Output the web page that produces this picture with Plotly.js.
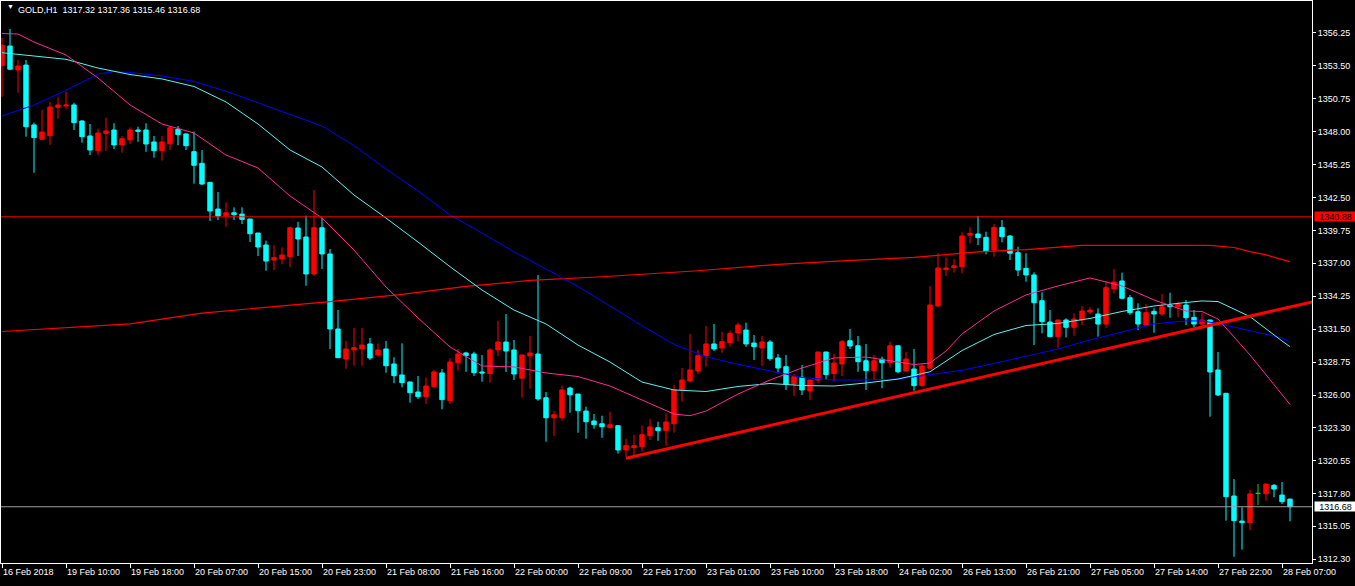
<!DOCTYPE html>
<html><head><meta charset="utf-8">
<script src="https://cdn.plot.ly/plotly-3.0.1.min.js"></script>
<style>html,body{margin:0;padding:0;background:#000;overflow:hidden}#chart{width:1355px;height:586px}</style>
</head><body><div id="chart"></div>
<script>
const symbol = "GOLD,H1";

const open = [
1353.50,1355.14,1353.14,1353.55,1348.55,1347.35,1347.65,1350.02,1350.13,1350.22,
1348.88,1347.63,1346.40,1347.85,1348.13,1346.88,1347.30,1348.13,1348.13,1347.13,
1346.40,1346.98,1348.19,1347.80,1346.32,1345.35,1343.76,1341.53,1340.97,1341.22,
1341.11,1340.70,1339.53,1338.53,1337.28,1337.36,1337.55,1339.95,1339.20,1336.11,
1339.97,1337.78,1331.52,1329.01,1329.77,1329.85,1330.27,1329.35,1329.85,1328.60,
1327.68,1327.10,1326.26,1325.87,1326.70,1327.85,1325.53,1328.70,1329.52,1329.43,
1327.93,1327.79,1329.77,1330.43,1329.77,1327.41,1329.27,1329.43,1325.78,1324.11,
1324.11,1326.59,1326.09,1324.67,1323.84,1323.61,1323.28,1323.45,1321.42,1321.61,
1321.69,1322.61,1323.28,1323.03,1323.61,1326.43,1327.18,1328.01,1329.27,1330.27,
1329.93,1330.37,1331.18,1331.43,1330.35,1329.93,1330.43,1329.10,1328.37,1326.93,
1327.49,1326.34,1327.26,1329.60,1327.79,1328.60,1330.54,1330.12,1328.87,1328.04,
1328.99,1328.70,1330.12,1328.01,1328.18,1326.79,1328.24,1333.44,1336.47,1336.64,
1336.72,1339.34,1339.45,1339.17,1338.11,1340.00,1339.28,1337.89,1336.58,1336.03,
1333.88,1332.10,1330.88,1332.27,1331.66,1332.27,1332.94,1332.77,1331.93,1334.86,
1335.53,1334.13,1332.96,1331.85,1332.99,1332.77,1333.52,1333.38,1333.52,1332.49,
1331.93,1332.27,1328.10,1326.15,1317.58,1315.49,1315.35,1317.80,1317.77,1318.47,
1317.66,1317.32];

const high = [
1355.83,1356.56,1353.97,1353.97,1348.74,1349.80,1350.47,1350.86,1351.30,1350.41,
1348.96,1348.63,1348.24,1349.16,1348.69,1347.63,1348.35,1348.41,1348.69,1347.63,
1347.63,1348.46,1348.46,1347.85,1347.99,1346.46,1343.79,1342.95,1342.09,1341.67,
1341.67,1340.70,1339.53,1338.89,1338.53,1338.34,1340.06,1340.47,1340.98,1343.12,
1340.81,1338.20,1333.10,1330.52,1331.60,1331.60,1330.77,1330.32,1330.52,1329.16,
1330.32,1327.10,1327.60,1327.45,1328.10,1328.18,1329.07,1329.85,1329.62,1329.62,
1329.35,1329.91,1332.19,1332.77,1330.60,1329.35,1330.93,1336.03,1326.26,1324.67,
1326.79,1326.70,1326.09,1325.03,1324.42,1324.28,1324.61,1323.45,1322.36,1322.69,
1323.45,1324.00,1323.78,1324.48,1326.85,1328.26,1331.10,1329.77,1331.77,1331.94,
1331.29,1331.38,1332.05,1332.05,1331.02,1330.93,1330.60,1329.43,1329.35,1327.76,
1328.51,1327.26,1329.60,1329.60,1329.43,1330.60,1331.52,1330.93,1330.27,1329.35,
1329.21,1330.46,1330.12,1329.62,1329.85,1328.65,1335.11,1337.84,1337.50,1337.36,
1339.59,1340.00,1340.95,1339.64,1340.28,1340.62,1339.36,1338.39,1337.84,1336.25,
1334.58,1333.10,1332.27,1332.41,1332.83,1333.44,1333.33,1333.24,1335.55,1336.53,
1336.22,1334.36,1333.66,1333.60,1333.24,1334.44,1334.55,1333.80,1333.94,1333.10,
1332.88,1332.27,1329.60,1326.15,1318.99,1316.63,1318.08,1318.58,1318.58,1318.58,
1318.75,1317.36];

const low = [
1350.90,1353.14,1351.24,1347.57,1344.57,1347.35,1346.88,1349.07,1349.85,1348.13,
1347.07,1346.04,1346.04,1346.40,1346.54,1346.23,1346.96,1347.15,1346.32,1345.82,
1345.57,1346.46,1346.85,1346.46,1343.65,1343.54,1340.53,1340.62,1340.06,1340.62,
1340.28,1338.78,1337.61,1336.38,1336.44,1336.92,1336.67,1337.61,1335.13,1335.94,
1336.53,1329.85,1329.12,1328.18,1328.45,1328.45,1328.93,1329.21,1327.87,1326.99,
1326.65,1325.37,1325.68,1325.26,1326.70,1324.82,1325.26,1328.04,1327.95,1327.60,
1327.12,1327.04,1329.27,1327.93,1327.26,1325.78,1326.53,1325.53,1322.11,1322.60,
1323.86,1324.53,1322.86,1322.36,1323.20,1322.44,1323.20,1321.11,1320.86,1320.94,
1321.28,1322.25,1322.19,1321.78,1322.86,1325.45,1327.04,1327.76,1328.37,1329.68,
1329.54,1330.04,1330.46,1330.04,1328.93,1328.43,1328.87,1327.82,1326.43,1325.93,
1326.01,1325.59,1326.99,1327.32,1327.12,1327.60,1329.85,1327.95,1326.43,1327.26,
1326.57,1328.29,1327.82,1327.95,1326.37,1326.70,1328.24,1333.38,1335.94,1336.22,
1336.17,1338.67,1338.53,1337.75,1337.55,1338.76,1337.28,1335.94,1335.47,1330.18,
1331.16,1330.82,1329.96,1330.81,1330.96,1331.85,1332.77,1330.88,1331.60,1334.50,
1334.00,1332.69,1331.43,1331.77,1331.21,1332.60,1332.46,1332.49,1331.85,1331.66,
1331.77,1324.20,1325.93,1315.52,1312.51,1313.10,1314.74,1316.83,1317.19,1317.47,
1316.91,1315.46];

const close = [
1355.20,1353.20,1353.47,1348.40,1347.49,1347.96,1350.05,1350.22,1350.22,1348.74,
1347.57,1346.46,1347.88,1348.05,1346.88,1347.40,1348.13,1348.02,1346.96,1346.40,
1347.13,1348.32,1347.74,1346.82,1345.18,1343.62,1341.37,1340.95,1341.22,1341.06,
1340.67,1339.47,1338.36,1337.19,1337.47,1337.69,1339.97,1339.03,1336.11,1339.97,
1337.78,1331.52,1329.12,1329.85,1329.96,1330.18,1329.10,1329.77,1328.45,1327.62,
1327.04,1326.20,1325.87,1326.76,1327.93,1325.62,1328.76,1329.43,1329.29,1327.87,
1327.85,1329.77,1330.43,1329.68,1327.76,1329.35,1329.52,1325.68,1324.11,1324.36,
1326.43,1326.03,1324.70,1323.78,1323.53,1323.36,1323.53,1321.42,1321.78,1321.78,
1322.69,1323.34,1323.03,1323.76,1326.43,1327.26,1328.10,1329.29,1330.27,1329.85,
1330.46,1331.16,1331.85,1330.27,1330.04,1330.43,1329.04,1328.26,1326.90,1327.54,
1326.43,1327.26,1329.60,1327.71,1328.68,1330.46,1330.10,1328.79,1328.04,1328.87,
1328.70,1330.12,1327.95,1329.01,1326.79,1328.43,1333.52,1336.61,1336.61,1336.80,
1339.28,1339.50,1339.14,1338.03,1340.00,1339.22,1337.84,1336.44,1336.03,1333.71,
1332.13,1330.88,1332.27,1331.66,1332.35,1333.02,1333.10,1331.93,1334.97,1335.44,
1334.08,1332.88,1331.93,1332.88,1332.77,1333.38,1333.38,1333.60,1332.46,1331.93,
1332.27,1327.93,1326.01,1317.52,1315.52,1315.35,1317.75,1317.80,1318.58,1318.16,
1317.10,1316.68];

// x-axis time labels (every 8th bar)
const tickBars = [0,8,16,24,32,40,48,56,64,72,80,88,96,104,112,120,128,136,144,152,160];
const tickLabels = ["16 Feb 2018","19 Feb 10:00","19 Feb 18:00","20 Feb 07:00","20 Feb 15:00","20 Feb 23:00",
"21 Feb 08:00","21 Feb 16:00","22 Feb 00:00","22 Feb 09:00","22 Feb 17:00","23 Feb 01:00","23 Feb 10:00",
"23 Feb 18:00","24 Feb 02:00","26 Feb 13:00","26 Feb 21:00","27 Feb 05:00","27 Feb 14:00","27 Feb 22:00","28 Feb 07:00"];

// price scale labels
const priceTicks = [1356.25,1353.50,1350.75,1348.00,1345.25,1342.50,1339.75,1337.00,1334.25,1331.50,1328.75,1326.00,1323.30,1320.55,1317.80,1315.05,1312.30];

// moving averages
const maFastBars = [0,2,4,8,12,16,20,24,28,32,36,40,44,48,52,56,60,64,68,72,76,80,84,86,88,92,96,100,104,108,112,114,116,118,120,124,128,132,136,140,144,148,150,152,156,160,161];
const maFast = [1356.18,1356.14,1355.47,1354.39,1352.47,1350.22,1348.63,1347.88,1346.04,1344.96,1342.62,1340.78,1338.11,1335.02,1332.44,1330.02,1328.43,1328.35,1327.85,1327.55,1326.76,1325.59,1324.42,1324.28,1324.67,1326.09,1327.26,1328.26,1329.10,1329.18,1328.76,1328.55,1328.68,1329.68,1331.10,1333.02,1334.36,1335.11,1335.78,1335.11,1333.94,1333.02,1332.98,1332.35,1329.35,1326.01,1325.22];

const maMidBars = [0,4,8,12,16,20,24,28,32,36,40,44,48,52,56,60,64,68,72,76,80,84,88,92,96,100,104,108,112,116,120,124,128,132,136,140,144,148,150,152,156,160,161];
const maMid = [1354.58,1354.31,1354.03,1353.30,1352.76,1352.39,1351.76,1350.47,1348.63,1346.46,1345.04,1342.70,1340.78,1338.78,1336.72,1334.77,1333.10,1331.94,1330.18,1328.76,1327.09,1326.43,1326.30,1326.72,1326.97,1326.80,1326.76,1327.01,1327.34,1327.95,1329.72,1331.06,1331.81,1331.98,1332.40,1332.98,1333.44,1333.73,1333.86,1333.81,1332.55,1330.52,1330.04];

const maSlowBars = [0,4,8,12,14,16,20,24,28,32,36,40,44,48,52,56,60,64,68,72,76,80,84,88,92,96,100,104,108,112,116,120,124,128,132,136,140,144,148,150,152,156,160,161];
const maSlow = [1349.30,1350.22,1351.43,1352.80,1353.01,1352.93,1352.64,1352.18,1351.37,1350.38,1349.40,1348.46,1346.82,1344.87,1343.04,1341.03,1339.53,1337.95,1336.53,1335.07,1333.44,1331.79,1330.23,1329.20,1328.57,1328.05,1327.47,1327.26,1327.26,1327.34,1327.68,1328.07,1328.64,1329.23,1329.85,1330.60,1331.27,1331.94,1332.19,1332.19,1331.98,1331.38,1330.77,1330.43];

const ma200Bars = [0,8,16,25,33,41,50,58,66,75,87,97,105,114,122,128,135,145,151,154,156,158,161];
const ma200 = [1331.31,1331.63,1331.94,1332.85,1333.30,1333.80,1334.40,1335.07,1335.57,1335.88,1336.38,1336.92,1337.20,1337.50,1337.96,1338.15,1338.49,1338.50,1338.50,1338.32,1337.97,1337.70,1337.14];

// drawn trendline anchors (ray to the right)
const trendBars = [78, 150];
const trendPrices = [1320.73, 1331.68];

// horizontal level and bid
const levelPrice = 1340.88;
const bidPrice = close[close.length - 1];

// ---------- build ----------
const X_MIN = -0.125, X_MAX = 163.75;
const Y_MIN = 1311.986, Y_MAX = 1358.896;
const FONT = "Liberation Sans, Arial, sans-serif";

const idx = open.map((_, i) => i);
const isDoji = idx.map(i => open[i] === close[i]);
const sel = (arr, f) => idx.filter(f).map(i => arr[i]);
const reg = i => !isDoji[i];
const dj = i => isDoji[i];

const candles = {
  type: 'candlestick', x: sel(idx, reg), open: sel(open, reg), high: sel(high, reg),
  low: sel(low, reg), close: sel(close, reg),
  increasing: {line: {color: '#ff0000', width: 1}, fillcolor: '#ff0000'},
  decreasing: {line: {color: '#00ffff', width: 1}, fillcolor: '#00ffff'},
  whiskerwidth: 0, hoverinfo: 'skip', showlegend: false
};
const dojis = {
  type: 'candlestick', x: sel(idx, dj), open: sel(open, dj), high: sel(high, dj),
  low: sel(low, dj), close: sel(close, dj),
  increasing: {line: {color: '#22c422', width: 1}, fillcolor: '#22c422'},
  decreasing: {line: {color: '#22c422', width: 1}, fillcolor: '#22c422'},
  whiskerwidth: 0, hoverinfo: 'skip', showlegend: false
};
const line = (x, y, color, width) => ({type: 'scatter', mode: 'lines', x, y,
  line: {color, width}, hoverinfo: 'skip', showlegend: false});

const slope = (trendPrices[1] - trendPrices[0]) / (trendBars[1] - trendBars[0]);
const trendX = [trendBars[0], X_MAX + 1];
const trendY = [trendPrices[0], trendPrices[0] + slope * (X_MAX + 1 - trendBars[0])];

const data = [
  candles, dojis,
  line(ma200Bars, ma200, '#ff0000', 1.2),
  line(maSlowBars, maSlow, '#0000ff', 1),
  line(maMidBars, maMid, '#5cf2f2', 1),
  line(maFastBars, maFast, '#ff2a93', 1),
  line(trendX, trendY, '#ff0000', 3)
];

const n = open.length - 1;
const fmt = v => v.toFixed(2);
const header = symbol + '\u00a0\u00a0' + [open[n], high[n], low[n], close[n]].map(fmt).join(' ');

const layout = {
  width: 1355, height: 586,
  margin: {l: 1, r: 43, t: 1, b: 23, pad: 0},
  paper_bgcolor: '#000000', plot_bgcolor: '#000000',
  showlegend: false, hovermode: false,
  boxgap: 0.45, boxgroupgap: 0,
  font: {family: FONT, size: 9, color: '#ffffff'},
  xaxis: {
    type: 'linear', range: [X_MIN, X_MAX], fixedrange: true,
    showgrid: false, zeroline: false, showline: true, mirror: true,
    linecolor: '#ffffff', linewidth: 1,
    ticks: 'outside', ticklen: 4, tickwidth: 1, tickcolor: '#ffffff',
    tickmode: 'array', tickvals: tickBars, ticktext: tickLabels,
    ticklabelposition: 'outside right',
    tickfont: {family: FONT, size: 9, color: '#ffffff'},
    rangeslider: {visible: false}
  },
  yaxis: {
    side: 'right', range: [Y_MIN, Y_MAX], fixedrange: true,
    showgrid: false, zeroline: false, showline: true, mirror: true,
    linecolor: '#ffffff', linewidth: 1,
    ticks: 'outside', ticklen: 3, tickwidth: 1, tickcolor: '#ffffff',
    tickmode: 'array', tickvals: priceTicks, ticktext: priceTicks.map(fmt),
    tickfont: {family: FONT, size: 9, color: '#ffffff'}
  },
  shapes: [
    {type: 'line', xref: 'paper', x0: 0, x1: 1, yref: 'y', y0: levelPrice, y1: levelPrice,
     line: {color: '#ff0000', width: 1}, layer: 'above'},
    {type: 'line', xref: 'paper', x0: 0, x1: 1, yref: 'y', y0: bidPrice, y1: bidPrice,
     line: {color: '#a0a0a0', width: 1}, layer: 'above'}
  ],
  annotations: [
    {xref: 'paper', yref: 'paper', x: 0, y: 1, xshift: 4, yshift: -5, xanchor: 'left', yanchor: 'middle',
     text: '\u25BC', showarrow: false, font: {family: FONT, size: 7, color: '#ffffff'}},
    {xref: 'paper', yref: 'paper', x: 0, y: 1, xshift: 15, yshift: -9, xanchor: 'left', yanchor: 'middle',
     text: header, showarrow: false, font: {family: FONT, size: 9, color: '#ffffff'}},
    {xref: 'paper', yref: 'y', x: 1, y: levelPrice, xanchor: 'left', yanchor: 'middle', xshift: 2,
     text: fmt(levelPrice), showarrow: false, bgcolor: '#ff0000', borderpad: 0, width: 41, height: 9, align: 'center',
     font: {family: FONT, size: 9, color: '#000000'}},
    {xref: 'paper', yref: 'y', x: 1, y: bidPrice, xanchor: 'left', yanchor: 'middle', xshift: 2,
     text: fmt(bidPrice), showarrow: false, bgcolor: '#ffffff', borderpad: 0, width: 41, height: 9, align: 'center',
     font: {family: FONT, size: 9, color: '#000000'}}
  ]
};

Plotly.newPlot('chart', data, layout, {displayModeBar: false, staticPlot: true});
</script>
</body></html>
